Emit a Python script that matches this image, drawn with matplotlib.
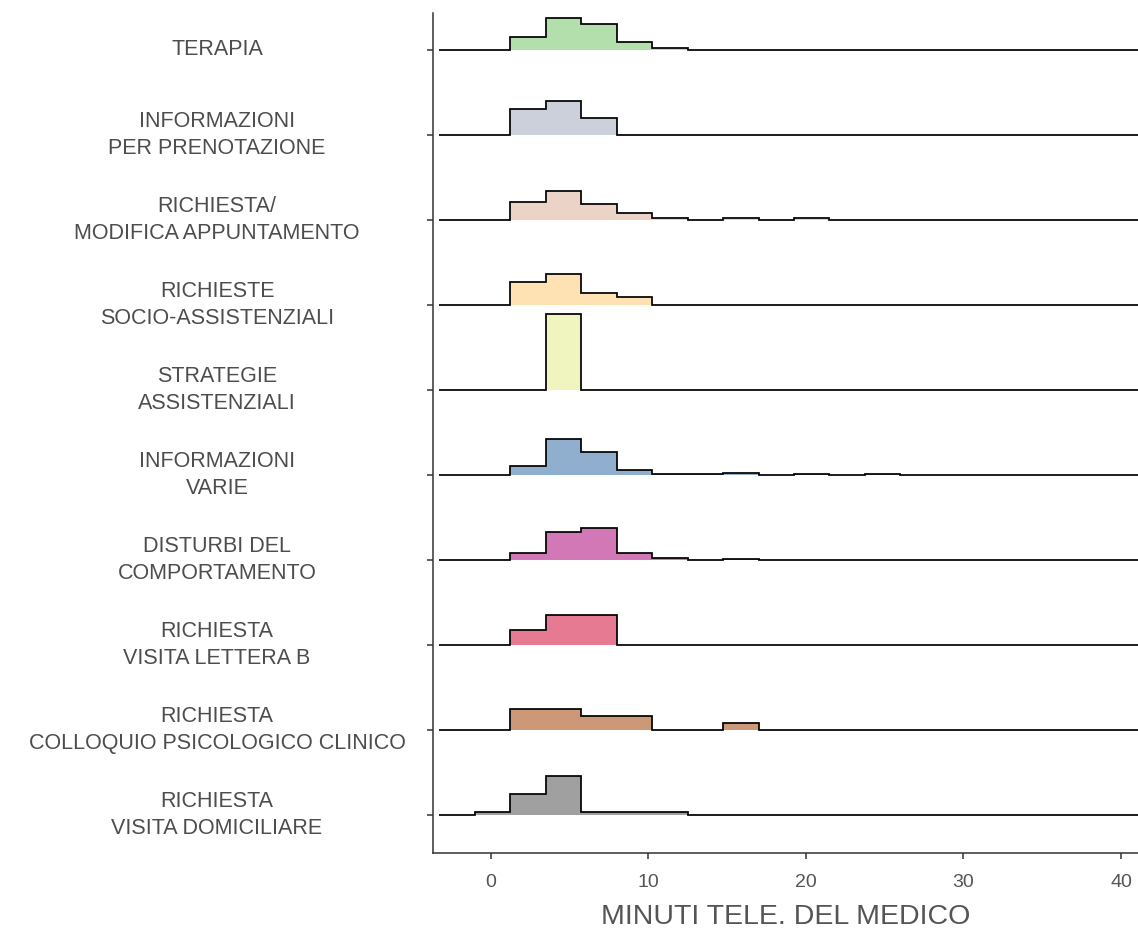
import matplotlib.pyplot as plt
import matplotlib.transforms as mtransforms

plt.rcParams['font.family'] = ['Liberation Sans', 'DejaVu Sans']

# bin edges of the histograms (minutes)
bin_edges = [-3.25, -1.0, 1.25, 3.5, 5.75, 8.0, 10.25, 12.5, 14.75, 17.0, 19.25,
             21.5, 23.75, 26.0, 28.25, 30.5, 32.75, 35.0, 37.25, 39.5, 41.75, 44.0]

# categories, top to bottom
categories = [
    "TERAPIA",
    "INFORMAZIONI\nPER PRENOTAZIONE",
    "RICHIESTA/\nMODIFICA APPUNTAMENTO",
    "RICHIESTE\nSOCIO-ASSISTENZIALI",
    "STRATEGIE\nASSISTENZIALI",
    "INFORMAZIONI\nVARIE",
    "DISTURBI DEL\nCOMPORTAMENTO",
    "RICHIESTA\nVISITA LETTERA B",
    "RICHIESTA\nCOLLOQUIO PSICOLOGICO CLINICO",
    "RICHIESTA\nVISITA DOMICILIARE",
]

# share of calls per bin (%), starting at the first bin
terapia = [0, 0, 16.5, 42, 34, 10, 2]
prenotazione = [0, 0, 34, 45, 23]
modifica = [0, 0, 24, 38, 21, 9, 3, 0, 3, 0, 3]
socio = [0, 0, 31, 41, 16, 11]
strategie = [0, 0, 0, 100]
info_varie = [0, 0, 12, 47.5, 30, 6.7, 1, 1, 2, 0, 1, 0, 1]
disturbi = [0, 0, 9, 37, 42, 9, 2, 0.4, 1.5, 0.4, 0.4, 0.4, 0.4, 0.4, 0.4,
            0.4, 0.4, 0.4, 0.4, 0.4, 0.4]
lettera_b = [0, 0, 20, 40, 40]
colloquio = [0, 0, 27.3, 27.3, 18.2, 18.2, 0, 0, 9.1]
domiciliare = [0, 3.5, 28, 52, 3.5, 3.5, 3.5]

shares = [terapia, prenotazione, modifica, socio, strategie,
          info_varie, disturbi, lettera_b, colloquio, domiciliare]

colors = ['#b2dfab', '#cbd0da', '#ebd3c8', '#fee2b4', '#f0f5c0',
          '#90aecd', '#d278b6', '#e77a93', '#cc9978', '#a0a0a0']

W, H = 1138, 934
fig = plt.figure(figsize=(W / 100, H / 100), dpi=100)
ax = fig.add_axes([432.7 / W, 1 - 852.7 / H, (W - 432.7) / W, (852.7 - 13) / H])

height_scale = 0.89  # 100% -> ridge height in row units
n = len(categories)
for i, (vals, col) in enumerate(zip(shares, colors)):
    base = n - 1 - i
    vals = vals + [0] * (len(bin_edges) - 1 - len(vals))
    tops = [base + v / 100 * height_scale for v in vals]
    ax.stairs(tops, bin_edges, baseline=base, fill=True, color=col, lw=0, zorder=2 + i)
    ax.stairs(tops, bin_edges, baseline=base, color='black', lw=1.25, zorder=2 + i)

ax.set_xlim(-3.68, 41.08)
ax.set_ylim(-0.444, 9.435)

ax.spines['top'].set_visible(False)
ax.spines['right'].set_visible(False)
for s in ['left', 'bottom']:
    ax.spines[s].set_color('#333333')
    ax.spines[s].set_linewidth(1.1)

ax.set_xticks([0, 10, 20, 30, 40])
ax.tick_params(axis='x', colors='#333333', labelcolor='#555555', labelsize=14,
               length=4, width=1.1, pad=11)
ax.set_yticks(range(n))
ax.set_yticklabels([])
ax.tick_params(axis='y', colors='#333333', length=4, width=1.1)

# category labels, centred in the left column
trans = mtransforms.blended_transform_factory(fig.transFigure, ax.transData)
for i, lab in enumerate(categories):
    ax.text(217 / W, n - 1 - i, lab, transform=trans, ha='center', va='center',
            multialignment='center', fontsize=15.5, color='#4d4d4d',
            linespacing=1.4)

ax.set_xlabel('MINUTI TELE. DEL MEDICO', fontsize=20.5, color='#555555', labelpad=10)

fig.savefig('out.png', dpi=100)
